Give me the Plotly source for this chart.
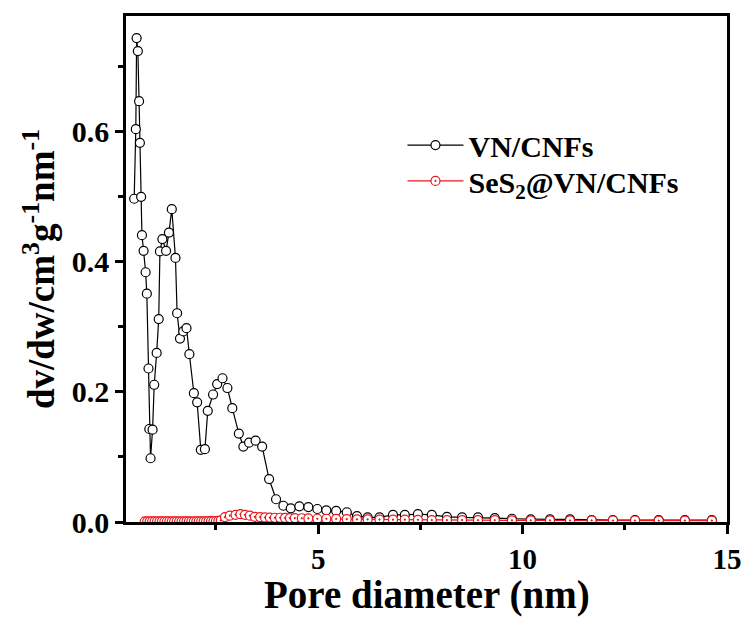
import plotly.graph_objects as go

# VN/CNFs
x_vn = [0.50, 0.54, 0.56, 0.59, 0.62, 0.64, 0.67, 0.69, 0.73, 0.78, 0.81, 0.85, 0.87, 0.90, 0.95,
        0.99, 1.05, 1.10, 1.13, 1.19, 1.28, 1.35, 1.42, 1.51, 1.55, 1.62, 1.70, 1.78, 1.85, 1.96,
        2.04, 2.13, 2.23, 2.30, 2.43, 2.53, 2.66, 2.78, 2.90, 3.06, 3.17, 3.31, 3.47, 3.63, 3.80,
        3.97, 4.15, 4.33, 4.54, 4.76, 4.98, 5.20, 5.44, 5.70, 5.95, 6.21, 6.50, 6.83, 7.12, 7.44,
        7.78, 8.15, 8.52, 8.91, 9.32, 9.74, 10.20, 10.67, 11.16, 11.69, 12.21, 12.75, 13.33, 13.97, 14.63]
y_vn = [0.497, 0.604, 0.744, 0.724, 0.647, 0.583, 0.500, 0.441, 0.417, 0.384, 0.351, 0.236, 0.143, 0.098, 0.142,
        0.211, 0.260, 0.312, 0.416, 0.435, 0.417, 0.445, 0.481, 0.406, 0.321, 0.282, 0.293, 0.298, 0.258, 0.198,
        0.184, 0.111, 0.112, 0.171, 0.196, 0.212, 0.221, 0.206, 0.175, 0.136, 0.116, 0.122, 0.125, 0.116, 0.066,
        0.035, 0.025, 0.021, 0.024, 0.023, 0.020, 0.018, 0.017, 0.015, 0.009, 0.007, 0.007, 0.011, 0.011, 0.012,
        0.011, 0.008, 0.007, 0.007, 0.006, 0.005, 0.004, 0.004, 0.004, 0.003, 0.003, 0.003, 0.003, 0.003, 0.003]

# SeS2@VN/CNFs
x_ses = [0.76, 0.82, 0.88, 0.94, 1.00, 1.06, 1.12, 1.18, 1.24, 1.30, 1.36, 1.42, 1.48, 1.54, 1.60,
         1.66, 1.72, 1.78, 1.84, 1.90, 1.96, 2.02, 2.08, 2.14, 2.20, 2.26, 2.32, 2.38, 2.44, 2.50,
         2.56, 2.62, 2.72, 2.84, 2.98, 3.10, 3.21, 3.33, 3.45, 3.58, 3.70, 3.82, 3.94, 4.07, 4.19,
         4.31, 4.43, 4.60, 4.76, 4.98, 5.20, 5.44, 5.70, 5.95, 6.21, 6.50, 6.83, 7.12, 7.44, 7.78,
         8.15, 8.52, 8.91, 9.32, 9.74, 10.20, 10.67, 11.16, 11.69, 12.21, 12.75, 13.33, 13.97, 14.63]
y_ses = [0.001, 0.001, 0.001, 0.001, 0.001, 0.001, 0.001, 0.001, 0.001, 0.001, 0.001, 0.001, 0.001, 0.001, 0.001,
         0.001, 0.001, 0.001, 0.001, 0.001, 0.001, 0.001, 0.001, 0.001, 0.001, 0.001, 0.0012, 0.0012, 0.0013, 0.0015,
         0.0018, 0.0025, 0.0075, 0.0097, 0.011, 0.012, 0.011, 0.0097, 0.008, 0.0075, 0.007, 0.0068, 0.0065, 0.0065, 0.0063,
         0.006, 0.006, 0.0058, 0.0055, 0.005, 0.005, 0.0048, 0.0045, 0.004, 0.004, 0.0038, 0.0035, 0.0035, 0.0033, 0.003,
         0.003, 0.003, 0.0028, 0.0028, 0.0025, 0.0025, 0.0025, 0.0024, 0.0024, 0.0023, 0.0023, 0.0022, 0.0022, 0.0022]

x_ticks = [5, 10, 15]
y_ticks = [0.0, 0.2, 0.4, 0.6]
x_title = "Pore diameter (nm)"

FONT = "Liberation Serif"
RED = "#e8191e"

fig = go.Figure()
fig.add_trace(go.Scatter(
    x=x_vn, y=y_vn, mode="lines+markers", name="VN/CNFs", legend="legend",
    line=dict(color="black", width=1.2),
    marker=dict(symbol="circle", size=9, color="white", line=dict(color="black", width=1.2)),
))
fig.add_trace(go.Scatter(
    x=x_ses, y=y_ses, mode="lines+markers", name="SeS<sub>2</sub>@VN/CNFs", legend="legend2",
    line=dict(color=RED, width=1.2),
    marker=dict(symbol="circle-dot", size=9, color="white", line=dict(color=RED, width=1.2)),
))

legend_font = dict(family=FONT, size=30, color="black", weight="bold")
fig.update_layout(
    width=748, height=618,
    margin=dict(l=126, r=21, t=16, b=96),
    paper_bgcolor="white", plot_bgcolor="white",
    font=dict(family=FONT, color="black"),
    showlegend=True,
    legend=dict(x=0.46, y=0.745, xanchor="left", yanchor="middle", font=legend_font,
                bgcolor="rgba(0,0,0,0)", itemwidth=56),
    legend2=dict(x=0.46, y=0.674, xanchor="left", yanchor="middle", font=legend_font,
                 bgcolor="rgba(0,0,0,0)", itemwidth=56),
    xaxis=dict(
        range=[0.3, 15], tickvals=x_ticks, ticktext=[str(v) for v in x_ticks],
        automargin=False,
        showline=True, mirror=True, linecolor="black", linewidth=2.5,
        ticks="outside", ticklen=9, tickwidth=2.5, tickcolor="black",
        minor=dict(tickvals=[2.5, 7.5, 12.5], ticks="outside", ticklen=5, tickwidth=2.5, tickcolor="black"),
        showgrid=False, zeroline=False,
        tickfont=dict(family=FONT, size=29, color="black", weight="bold"),
    ),
    yaxis=dict(
        range=[0, 0.778], tickvals=y_ticks, ticktext=[f"{v:.1f}" for v in y_ticks],
        automargin=False,
        showline=True, mirror=True, linecolor="black", linewidth=2.5,
        ticks="outside", ticklen=8, tickwidth=2.5, tickcolor="black",
        minor=dict(tickvals=[0.1, 0.3, 0.5, 0.7], ticks="outside", ticklen=5, tickwidth=2.5, tickcolor="black"),
        showgrid=False, zeroline=False,
        tickfont=dict(family=FONT, size=30, color="black", weight="bold"),
        title=dict(text="dv/dw/cm<sup>3</sup>g<sup>-1</sup>nm<sup>-1</sup>",
                   font=dict(family=FONT, size=37, color="black", weight="bold"), standoff=6),
    ),
    annotations=[dict(
        text=x_title, xref="paper", yref="paper", x=0.5, y=-0.0998,
        xanchor="center", yanchor="top", showarrow=False, borderpad=0,
        font=dict(family=FONT, size=39, color="black", weight="bold"),
    )],
)

fig.write_html("out.html")
